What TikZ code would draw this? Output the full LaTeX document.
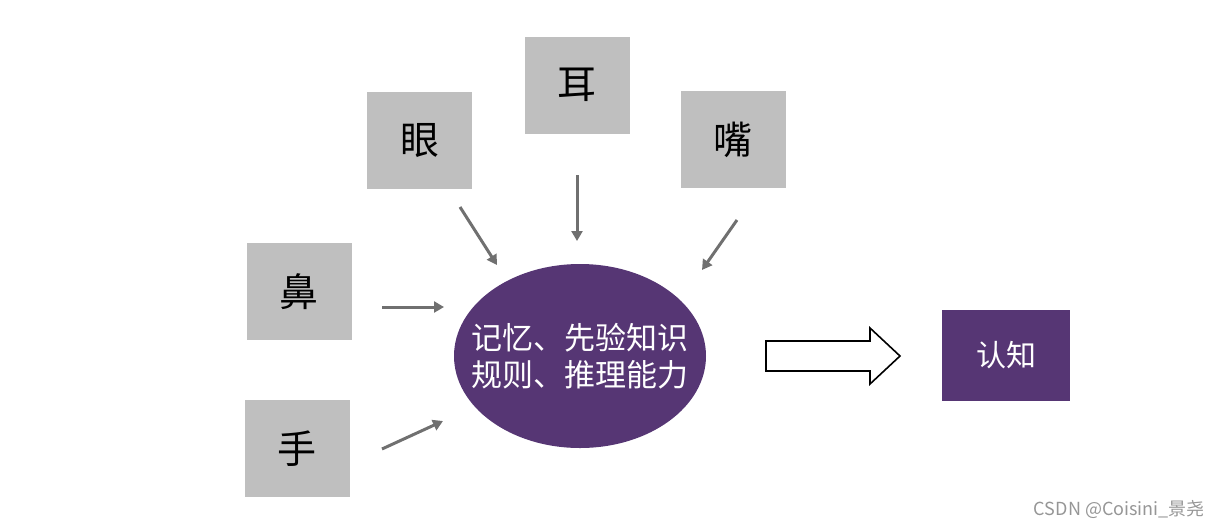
\documentclass[tikz,border=0pt]{standalone}
\usepackage{fontspec}
\setmainfont{Noto Sans CJK SC}
\usetikzlibrary{shapes.geometric,arrows.meta}
\definecolor{boxgray}{RGB}{191,191,191}
\definecolor{arrgray}{RGB}{112,112,112}
\definecolor{purp}{RGB}{86,54,116}
\definecolor{wmgray}{RGB}{150,150,150}
\begin{document}
\begin{tikzpicture}[x=1pt,y=-1pt,
  sense/.style={fill=boxgray,draw=none,minimum width=105pt,minimum height=97pt,inner sep=0pt,font=\fontsize{39}{40}\selectfont},
  feed/.style={draw=arrgray,line width=3pt,-{Triangle[length=10pt,width=11pt]}},
]
\useasboundingbox (0,0) rectangle (1219,528);
\node[sense] (eye) at (419.5,140.5) {眼};
\node[sense] (ear) at (577,85) {耳};
\node[sense] (mouth) at (733,139.5) {嘴};
\node[sense] (nose) at (299,291.5) {鼻};
\node[sense] (hand) at (297,448.5) {手};
\node[ellipse,fill=purp,draw=none,minimum width=252pt,minimum height=184pt,inner sep=0pt] (mind) at (580,356) {};
\node[text=white,align=center,inner sep=0pt,font=\fontsize{31}{37}\selectfont] (mindtext) at (mind.center) {记忆、先验知识\\规则、推理能力};
\node[fill=purp,draw=none,minimum width=128pt,minimum height=91pt,inner sep=0pt,text=white,font=\fontsize{30}{32}\selectfont] (cog) at (1006,355.5) {认知};
\coordinate (e1) at (460,207); \coordinate (e2) at (497,265);
\coordinate (r1) at (577,175); \coordinate (r2) at (577,241);
\coordinate (m1) at (737,220); \coordinate (m2) at (702,270);
\coordinate (n1) at (382,307); \coordinate (n2) at (444,307);
\coordinate (h1) at (382,449); \coordinate (h2) at (443,421);
\draw[feed] (e1) -- (e2);
\draw[feed] (r1) -- (r2);
\draw[feed] (m1) -- (m2);
\draw[feed] (n1) -- (n2);
\draw[feed] (h1) -- (h2);
\draw[black,line width=1.6pt,fill=white,line join=miter]
  (766,341) -- (870,341) -- (870,328) -- (900,356) -- (870,384) -- (870,371) -- (766,371) -- cycle;
\node[text=wmgray,anchor=east,inner sep=0pt,font=\fontsize{18}{20}\selectfont] (wm) at (1205,510) {CSDN @Coisini\_景尧};
\end{tikzpicture}
\end{document}
